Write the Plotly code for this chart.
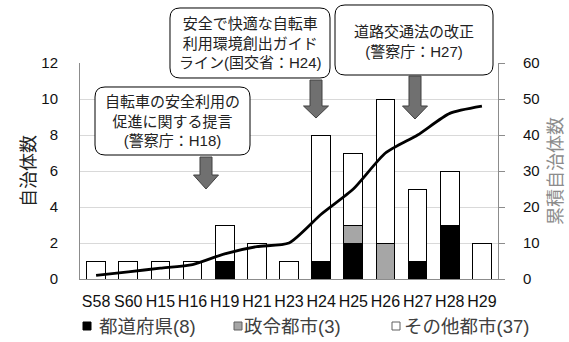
import plotly.graph_objects as go

categories = ["S58", "S60", "H15", "H16", "H19", "H21", "H23", "H24", "H25", "H26", "H27", "H28", "H29"]
prefectures = [0, 0, 0, 0, 1, 0, 0, 1, 2, 0, 1, 3, 0]
designated = [0, 0, 0, 0, 0, 0, 0, 0, 1, 2, 0, 0, 0]
others = [1, 1, 1, 1, 2, 2, 1, 7, 4, 8, 4, 3, 2]
cumulative = [1, 2, 3, 4, 7, 9, 10, 18, 25, 35, 40, 46, 48]

legend_names = ["都道府県(8)", "政令都市(3)", "その他都市(37)"]
notes = [
    "自転車の安全利用の<br>促進に関する提言<br>(警察庁：H18)",
    "安全で快適な自転車<br>利用環境創出ガイド<br>ライン(国交省：H24)",
    "道路交通法の改正<br>(警察庁：H27)",
]

W, H = 569, 342
L, R, T, B = 80, 71, 63, 63
PW, PH = W - L - R, H - T - B


def X(px):
    return (px - L) / PW


def Y(py):
    return (H - B - py) / PH


def rrect(x0, y0, x1, y1, r=10):
    pts = [
        ("M", [(x0 + r, y0)]), ("L", [(x1 - r, y0)]), ("Q", [(x1, y0), (x1, y0 + r)]),
        ("L", [(x1, y1 - r)]), ("Q", [(x1, y1), (x1 - r, y1)]),
        ("L", [(x0 + r, y1)]), ("Q", [(x0, y1), (x0, y1 - r)]),
        ("L", [(x0, y0 + r)]), ("Q", [(x0, y0), (x0 + r, y0)]),
    ]
    s = ""
    for cmd, ps in pts:
        s += cmd + " ".join(f"{X(a):.5f},{Y(b):.5f}" for a, b in ps) + " "
    return s + "Z"


def arrow(cx, top, hb, tip, sw=6, hw=12.5):
    p = [(cx - sw, top), (cx + sw, top), (cx + sw, hb), (cx + hw, hb), (cx, tip),
         (cx - hw, hb), (cx - sw, hb)]
    return "M" + " L".join(f"{X(a):.5f},{Y(b):.5f}" for a, b in p) + " Z"


FONT = "Liberation Sans, Arial, Noto Sans CJK JP, sans-serif"

fig = go.Figure()
fig.add_trace(go.Bar(x=categories, y=prefectures, name=legend_names[0],
                     marker=dict(color="#000000", line=dict(color="#000000", width=1)),
                     showlegend=False))
fig.add_trace(go.Bar(x=categories, y=designated, name=legend_names[1],
                     marker=dict(color="#a6a6a6", line=dict(color="#000000", width=1)),
                     showlegend=False))
fig.add_trace(go.Bar(x=categories, y=others, name=legend_names[2],
                     marker=dict(color="#ffffff", line=dict(color="#000000", width=1)),
                     showlegend=False))
fig.add_trace(go.Scatter(x=categories, y=cumulative, yaxis="y2", mode="lines",
                         line=dict(color="#000000", width=2.8, shape="spline", smoothing=0.6),
                         name="累積自治体数", showlegend=False))

shapes = []
boxes = [(95, 87, 250, 155), (170, 8, 330, 78), (335, 5, 493, 75)]
for b in boxes:
    shapes.append(dict(type="path", xref="paper", yref="paper", path=rrect(*b),
                       fillcolor="#ffffff", line=dict(color="#000000", width=1), layer="above"))
arrows = [(206, 157, 175, 189), (316, 80, 106, 118), (415, 76, 106, 119)]
for a in arrows:
    shapes.append(dict(type="path", xref="paper", yref="paper", path=arrow(*a),
                       fillcolor="#707070", line=dict(color="#404040", width=1), layer="above"))
leg_sq = [(83, "#000000", "#000000"), (234, "#a6a6a6", "#606060"), (392, "#ffffff", "#606060")]
for x0, fc, lc in leg_sq:
    shapes.append(dict(type="rect", xref="paper", yref="paper",
                       x0=X(x0), x1=X(x0 + 8), y0=Y(330), y1=Y(322),
                       fillcolor=fc, line=dict(color=lc, width=1)))

annotations = []
centers = [(172.5, 121), (250, 43), (414, 41)]
for (cx, cy), t in zip(centers, notes):
    annotations.append(dict(xref="paper", yref="paper", x=X(cx), y=Y(cy), text=t,
                            showarrow=False, xanchor="center", yanchor="middle",
                            font=dict(size=15, color="#222222", family=FONT)))
for x0, t in zip([97, 242, 402], legend_names):
    annotations.append(dict(xref="paper", yref="paper", x=X(x0), y=Y(326), text=t,
                            showarrow=False, xanchor="left", yanchor="middle",
                            font=dict(size=18.5, color="#404040", family=FONT)))

fig.update_layout(
    width=W, height=H,
    margin=dict(l=L, r=R, t=T, b=B, autoexpand=False),
    barmode="stack", bargap=0.42,
    plot_bgcolor="#ffffff", paper_bgcolor="#ffffff",
    font=dict(family=FONT, color="#222222"),
    xaxis=dict(type="category", showline=True, linecolor="#8c8c8c", linewidth=1,
               ticks="", tickfont=dict(size=16, color="#111111"), showgrid=False,
               ticklabelstandoff=8, fixedrange=True),
    yaxis=dict(range=[0, 12], dtick=2, showgrid=True, gridcolor="#d9d9d9", gridwidth=1,
               showline=True, linecolor="#8c8c8c", zeroline=False,
               tickfont=dict(size=15, color="#111111"), ticklabelstandoff=18,
               title=dict(text="自治体数", font=dict(size=18, color="#222222"), standoff=1)),
    yaxis2=dict(range=[0, 60], dtick=10, overlaying="y", side="right", showgrid=False,
                showline=True, linecolor="#8c8c8c", zeroline=False, ticks="outside",
                ticklen=6, tickcolor="#8c8c8c", tickfont=dict(size=15, color="#111111"),
                ticklabelstandoff=15,
                title=dict(text="累積自治体数", font=dict(size=18, color="#8c8c8c"), standoff=10)),
    shapes=shapes, annotations=annotations,
)

fig.write_html("out.html")
